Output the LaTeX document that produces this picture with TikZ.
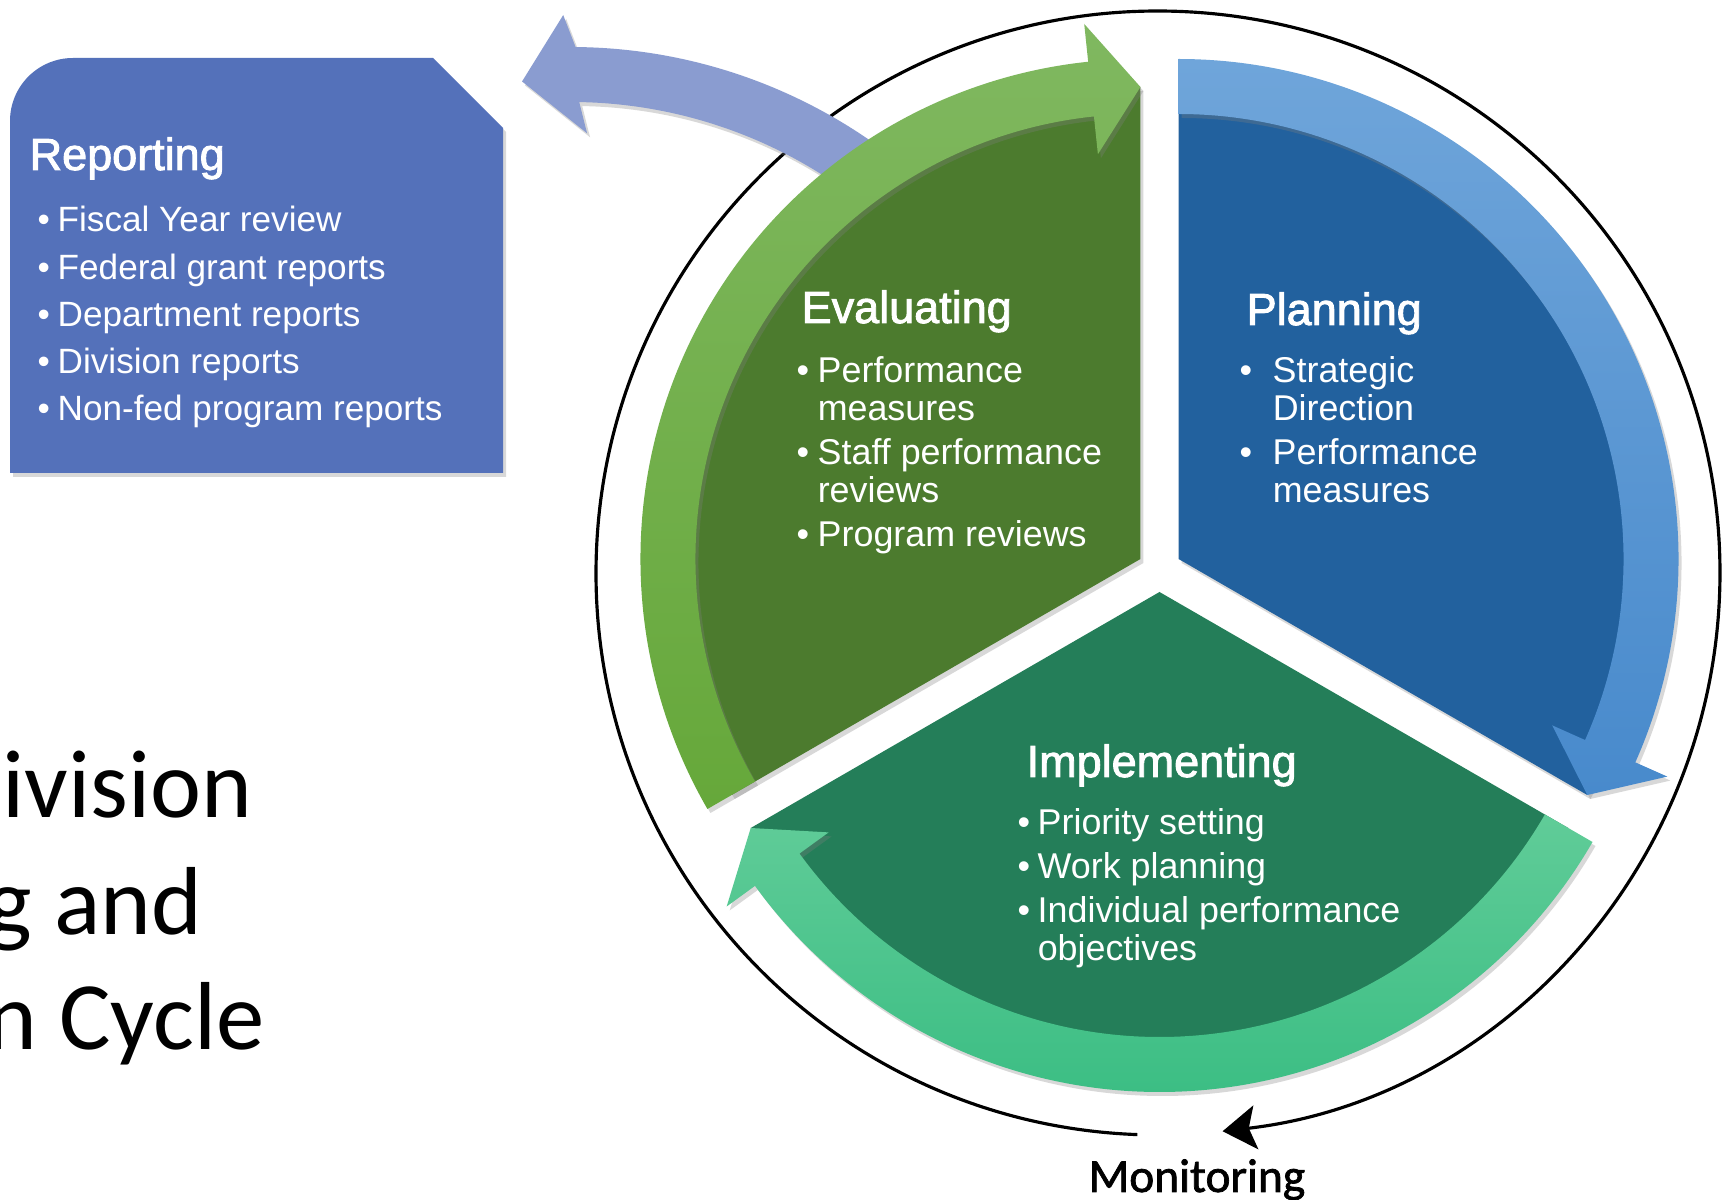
\documentclass[tikz,border=0pt]{standalone}
\usepackage{fontspec}
\setmainfont{Liberation Sans}
\newfontfamily\headfont[FakeBold=2]{Liberation Sans}
\newfontfamily\calfont{Carlito}
\newfontfamily\monfont[FakeBold=1.5]{Carlito}
\usepackage{tikz}
\usetikzlibrary{arrows.meta,calc,shadows}
\definecolor{evalDark}{HTML}{4C7B2E}
\definecolor{evalTop}{HTML}{80B860}
\definecolor{evalBottom}{HTML}{66A83A}
\definecolor{planDark}{HTML}{22619E}
\definecolor{planTop}{HTML}{6FA5DA}
\definecolor{planBottom}{HTML}{488ACC}
\definecolor{implDark}{HTML}{247E59}
\definecolor{implTop}{HTML}{60CC98}
\definecolor{implBottom}{HTML}{3CBE84}
\definecolor{reportBlue}{HTML}{5471BA}
\definecolor{reportArrow}{HTML}{8A9CD0}

\tikzset{
  softshadow/.style={drop shadow={shadow xshift=0.03cm,shadow yshift=-0.04cm,opacity=0.3}},
  sectitle/.style={anchor=base west,inner sep=0pt,white,font=\headfont\fontsize{12.8}{14}\selectfont},
  seclist/.style={anchor=base west,inner sep=0pt,white,font=\fontsize{10.2}{10.8}\selectfont},
  bigline/.style={anchor=base west,inner sep=0pt,font=\calfont\fontsize{27.5}{33}\selectfont}
}

\begin{document}
\begin{tikzpicture}
  \useasboundingbox (0,0) rectangle (17.22,12);
  \fill[white] (0,0) rectangle (17.22,12);

  % Centres of the cycle
  \coordinate (ring) at (11.58,6.27);
  \coordinate (hub) at (11.595,6.30);
  \coordinate (evalc) at ($(hub)+(150:0.22)$);
  \coordinate (planc) at ($(hub)+(30:0.22)$);
  \coordinate (implc) at ($(hub)+(270:0.22)$);
  \coordinate (reportc) at (5.71,6.28);

  % Monitoring ring
  \draw[line width=0.9pt,-{Stealth[length=9.5pt,width=12.5pt,inset=2pt]}]
    (ring) ++(267.9:5.62) arc[start angle=267.9,end angle=-83.4,radius=5.62];
  \node[anchor=base west,inner sep=0pt,font=\monfont\fontsize{13.5}{15}\selectfont] (monitor) at (10.88,0.08) {Monitoring};

  % Reporting arrow
  \begin{scope}[shift={(reportc)}]
    \fill[reportArrow,softshadow] (50:5.25) arc[start angle=50,end angle=89.5,radius=5.25]
      -- (90.8:5.57) -- (95.7:4.93) -- (87.9:4.39) -- (89.0:4.70)
      arc[start angle=89.0,end angle=50,radius=4.70] -- cycle;
  \end{scope}

  % Reporting box
  \fill[reportBlue,softshadow] (0.10,7.27) -- (0.10,10.79) arc[start angle=180,end angle=90,radius=0.63]
    -- (4.33,11.42) -- (5.03,10.72) -- (5.03,7.27) -- cycle;
  \node[sectitle] (reptitle) at (0.29,10.30) {Reporting};
  \node[anchor=base west,inner sep=0pt,white,font=\fontsize{10}{13.4}\selectfont] (replist) at (0.37,9.68) {%
    \begin{tabular}[t]{@{}l@{\hspace{0.077cm}}l@{}}
      \textbullet & Fiscal Year review\\
      \textbullet & Federal grant reports\\
      \textbullet & Department reports\\
      \textbullet & Division reports\\
      \textbullet & Non-fed program reports
    \end{tabular}};

  % Evaluating sector
  \begin{scope}[shift={(evalc)}]
    \fill[evalDark,softshadow] (0,0) -- (90:4.72) arc[start angle=90,end angle=210,radius=4.72] -- cycle;
    \path[top color=evalTop,bottom color=evalBottom,softshadow] (210:5) arc[start angle=210,end angle=96,radius=5]
      -- (96:5.38) -- (90:4.72) -- (96:4.07) -- (96:4.45)
      arc[start angle=96,end angle=210,radius=4.45] -- cycle;
  \end{scope}

  % Planning sector
  \begin{scope}[shift={(planc)}]
    \fill[planDark,softshadow] (0,0) -- (-30:4.72) arc[start angle=-30,end angle=90,radius=4.72] -- cycle;
    \path[top color=planTop,bottom color=planBottom,softshadow] (90:5) arc[start angle=90,end angle=-24,radius=5]
      -- (-24:5.35) -- (-30:4.72) -- (-24:4.09) -- (-24:4.45)
      arc[start angle=-24,end angle=90,radius=4.45] -- cycle;
  \end{scope}

  % Implementing sector
  \begin{scope}[shift={(implc)}]
    \fill[implDark,softshadow] (0,0) -- (210:4.72) arc[start angle=210,end angle=330,radius=4.72] -- cycle;
    \path[top color=implTop,bottom color=implBottom,softshadow] (330:5) arc[start angle=330,end angle=216,radius=5]
      -- (216:5.35) -- (210:4.72) -- (216:4.09) -- (216:4.45)
      arc[start angle=216,end angle=330,radius=4.45] -- cycle;
  \end{scope}

  % Sector texts
  \node[sectitle] (evaltitle) at (8.01,8.77) {Evaluating};
  \node[seclist] (evallist) at (7.96,8.17) {%
    \begin{tabular}[t]{@{}l@{\hspace{0.085cm}}l@{}}
      \textbullet & Performance\\ & measures\\[1.7pt]
      \textbullet & Staff performance\\ & reviews\\[1.7pt]
      \textbullet & Program reviews
    \end{tabular}};

  \node[sectitle] (plantitle) at (12.46,8.75) {Planning};
  \node[seclist] (planlist) at (12.39,8.17) {%
    \begin{tabular}[t]{@{}l@{\hspace{0.205cm}}l@{}}
      \textbullet & Strategic\\ & Direction\\[1.7pt]
      \textbullet & Performance\\ & measures
    \end{tabular}};

  \node[sectitle] (impltitle) at (10.26,4.23) {Implementing};
  \node[seclist] (impllist) at (10.17,3.65) {%
    \begin{tabular}[t]{@{}l@{\hspace{0.075cm}}l@{}}
      \textbullet & Priority setting\\[1.7pt]
      \textbullet & Work planning\\[1.7pt]
      \textbullet & Individual performance\\ & objectives
    \end{tabular}};

  % Cycle title, cut at the left edge
  \node[bigline] (cycline1) at (0.02,3.82) {ivision};
  \node[bigline] (cycline2) at (-0.14,2.65) {g and};
  \node[bigline] (cycline3) at (-0.14,1.50) {n Cycle};
\end{tikzpicture}
\end{document}
